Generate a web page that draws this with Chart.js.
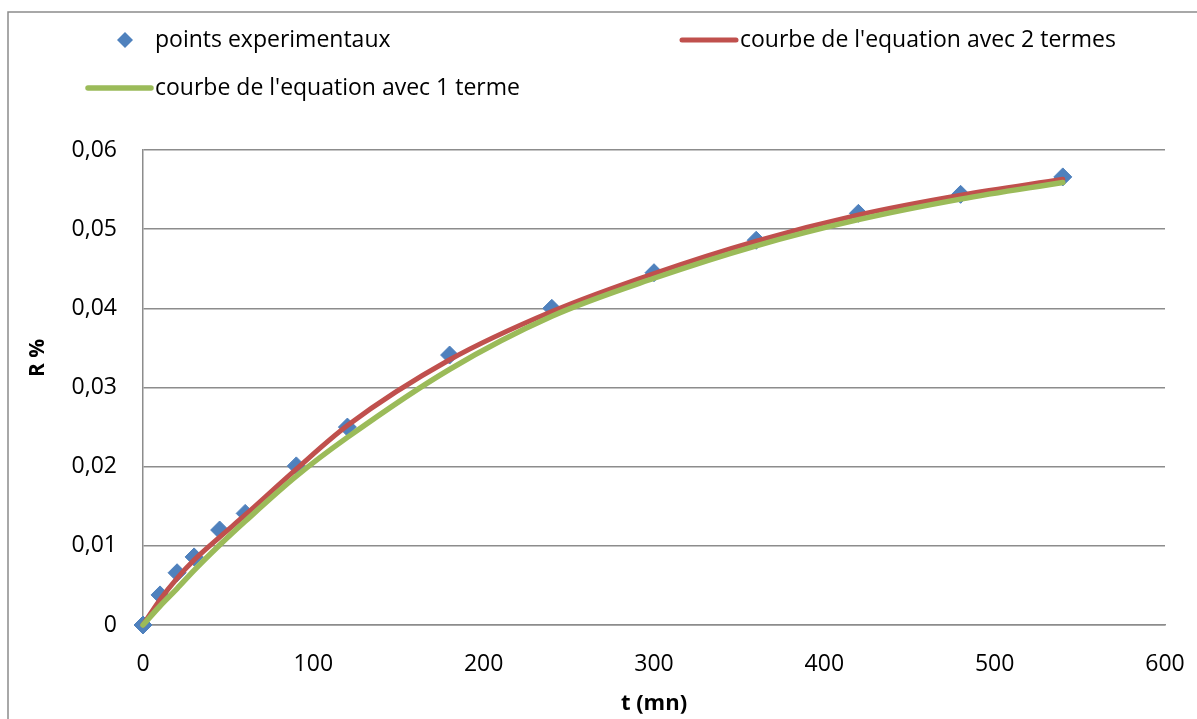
<!DOCTYPE html>
<html>
<head>
<meta charset="utf-8">
<script src="https://cdn.jsdelivr.net/npm/chart.js@4.4.0/dist/chart.umd.min.js"></script>
<style>
  html, body { margin: 0; padding: 0; background: #fff; }
  #wrap { position: relative; width: 1197px; height: 719px; }
</style>
</head>
<body>
<div id="wrap"><canvas id="chart"></canvas></div>
<script>
// temps des mesures (mn)
const tMesures = [0, 10, 20, 30, 45, 60, 90, 120, 180, 240, 300, 360, 420, 480, 540];
// taux R % mesure
const rMesures = [0, 0.0038, 0.0066, 0.0086, 0.0120, 0.0141, 0.0201, 0.0250, 0.0341, 0.0400, 0.0445, 0.0486, 0.0520, 0.0544, 0.0566];

// courbes du modele, releves aux memes instants
const tCourbe = [0, 10, 20, 30, 45, 60, 90, 120, 180, 240, 300, 360, 420, 480, 540];
const rDeuxTermes = [0, 0.0032, 0.0059, 0.0082, 0.0111, 0.0139, 0.0197, 0.0252, 0.0335, 0.0396, 0.0444, 0.0485, 0.0518, 0.0543, 0.0563];
const rUnTerme = [0, 0.0024, 0.0046, 0.0069, 0.0101, 0.0131, 0.0188, 0.0237, 0.0323, 0.0390, 0.0438, 0.0479, 0.0512, 0.0538, 0.0559];

const libelles = ["points experimentaux", "courbe de l'equation avec 2 termes", "courbe de l'equation avec 1 terme"];
const couleurs = ["#4F81BD", "#C0504D", "#9BBB59"];

const police = '"Open Sans", "Noto Sans", sans-serif';

const toXY = (xs, ys) => xs.map((x, i) => ({ x: x, y: ys[i] }));

// cadre gris autour du graphique
const cadre = {
  id: "cadre",
  beforeDraw(chart) {
    const ctx = chart.ctx;
    ctx.save();
    ctx.fillStyle = "#fff";
    ctx.fillRect(0, 0, chart.width, chart.height);
    ctx.strokeStyle = "#8c8c8c";
    ctx.lineWidth = 1.5;
    ctx.beginPath();
    ctx.moveTo(8, chart.height + 5);
    ctx.lineTo(8, 12);
    ctx.lineTo(chart.width + 5, 12);
    ctx.stroke();
    ctx.restore();
  }
};

// legende a la maniere d'Excel, deux lignes
const legende = {
  id: "legende",
  afterDraw(chart) {
    const ctx = chart.ctx;
    const ds = chart.data.datasets;
    const places = [
      { x0: 125, x1: 125, xt: 155, y: 40 },
      { x0: 682, x1: 736, xt: 740, y: 40 },
      { x0: 88, x1: 151, xt: 155, y: 88 }
    ];
    ctx.save();
    ctx.font = "23px " + police;
    ctx.textBaseline = "middle";
    ds.forEach((d, i) => {
      const p = places[i];
      if (i === 0) {
        const r = 8;
        ctx.fillStyle = d.backgroundColor;
        ctx.beginPath();
        ctx.moveTo(p.x0 - r, p.y);
        ctx.lineTo(p.x0, p.y - r);
        ctx.lineTo(p.x0 + r, p.y);
        ctx.lineTo(p.x0, p.y + r);
        ctx.closePath();
        ctx.fill();
      } else {
        ctx.strokeStyle = d.borderColor;
        ctx.lineWidth = d.borderWidth;
        ctx.lineCap = "round";
        ctx.beginPath();
        ctx.moveTo(p.x0, p.y);
        ctx.lineTo(p.x1, p.y);
        ctx.stroke();
      }
      ctx.fillStyle = "#000";
      ctx.fillText(d.label, p.xt, p.y);
    });
    ctx.restore();
  }
};

// titre vertical de l'axe des ordonnees
const titreY = {
  id: "titreY",
  afterDraw(chart) {
    const ctx = chart.ctx;
    ctx.save();
    ctx.translate(38, 358);
    ctx.rotate(-Math.PI / 2);
    ctx.font = "bold 21px " + police;
    ctx.fillStyle = "#000";
    ctx.textAlign = "center";
    ctx.textBaseline = "middle";
    ctx.fillText("R %", 0, 0);
    ctx.restore();
  }
};

new Chart(document.getElementById("chart"), {
  type: "line",
  plugins: [cadre, legende, titreY],
  data: {
    datasets: [
      {
        label: libelles[0],
        data: toXY(tMesures, rMesures),
        showLine: false,
        pointStyle: "rectRot",
        pointRadius: 9,
        pointBorderWidth: 1,
        backgroundColor: couleurs[0],
        borderColor: couleurs[0],
        clip: false,
        order: 2
      },
      {
        label: libelles[1],
        data: toXY(tCourbe, rDeuxTermes),
        borderColor: couleurs[1],
        backgroundColor: couleurs[1],
        borderWidth: 5,
        pointRadius: 0,
        cubicInterpolationMode: "monotone",
        borderCapStyle: "round",
        clip: false,
        order: 1
      },
      {
        label: libelles[2],
        data: toXY(tCourbe, rUnTerme),
        borderColor: couleurs[2],
        backgroundColor: couleurs[2],
        borderWidth: 5.5,
        pointRadius: 0,
        cubicInterpolationMode: "monotone",
        borderCapStyle: "round",
        clip: false,
        order: 0
      }
    ]
  },
  options: {
    responsive: true,
    maintainAspectRatio: false,
    animation: false,
    layout: { padding: { top: 150, right: 32, left: 0, bottom: 0 } },
    plugins: {
      legend: { display: false },
      tooltip: { enabled: false }
    },
    scales: {
      x: {
        type: "linear",
        min: 0,
        max: 600,
        // hauteur fixe, et pas de marge laterale due aux etiquettes
        afterFit: (s) => { s.height = 94; s.paddingRight = 0; s.paddingLeft = 0; },
        grid: { display: false, drawTicks: false },
        border: { display: true, color: "#8c8c8c", width: 1.5 },
        ticks: {
          stepSize: 100,
          padding: 26,
          color: "#000",
          font: { family: police, size: 23 },
          maxRotation: 0
        },
        title: {
          display: true,
          text: "t (mn)",
          color: "#000",
          font: { family: police, size: 22, weight: "bold" },
          padding: { top: 0, bottom: 2 }
        }
      },
      y: {
        min: 0,
        max: 0.06,
        afterFit: (s) => { s.width = 143; },
        grid: { color: "#8c8c8c", lineWidth: 1.5, drawTicks: false },
        border: { display: true, color: "#8c8c8c", width: 1.5 },
        ticks: {
          stepSize: 0.01,
          padding: 26,
          color: "#000",
          font: { family: police, size: 23 },
          callback: (v) => v === 0 ? "0" : (Math.round(v * 100) / 100).toFixed(2).replace(".", ",")
        }
      }
    }
  }
});
</script>
</body>
</html>
